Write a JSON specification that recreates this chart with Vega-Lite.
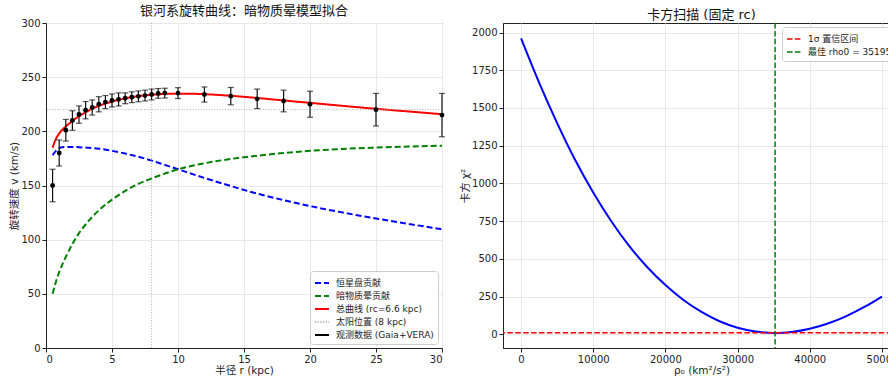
{
  "$schema": "https://vega.github.io/schema/vega-lite/v6.json",
  "background": "white",
  "padding": {"left": 9, "top": 4, "right": 0, "bottom": 0},
  "spacing": 14,
  "config": {
    "font": "DejaVu Sans, Noto Sans CJK SC",
    "view": {"stroke": "#222", "strokeWidth": 1},
    "axis": {"labelFontSize": 10, "titleFontSize": 10.5, "titleFontWeight": "normal", "labelColor": "#222", "titleColor": "#222", "tickColor": "#222", "domainColor": "#222", "gridColor": "#e8e8e8", "tickSize": 4, "labelPadding": 2, "titlePadding": 1},
    "title": {"fontSize": 13, "fontWeight": "normal", "color": "#111", "offset": 0, "dy": 4},
    "legend": {"fillColor": "white", "strokeColor": "#cccccc", "cornerRadius": 3, "padding": 4, "labelFontSize": 9, "labelColor": "#222", "symbolType": "stroke", "symbolSize": 196, "symbolStrokeWidth": 2, "rowPadding": 0, "labelLimit": 300, "labelOffset": 6, "offset": 4}
  },
  "resolve": {"scale": {"color": "independent", "strokeDash": "independent"}, "legend": {"color": "independent", "strokeDash": "independent"}},
  "hconcat": [
    {
      "width": 396,
      "height": 325,
      "title": "银河系旋转曲线：暗物质晕模型拟合",
      "layer": [
        {
          "data": {"values": [
            {"r": 0.5, "v": 178, "series": "恒星盘贡献"},
            {"r": 0.75, "v": 182, "series": "恒星盘贡献"},
            {"r": 1, "v": 184.5, "series": "恒星盘贡献"},
            {"r": 1.5, "v": 185.5, "series": "恒星盘贡献"},
            {"r": 2, "v": 185.5, "series": "恒星盘贡献"},
            {"r": 3, "v": 185, "series": "恒星盘贡献"},
            {"r": 4, "v": 184, "series": "恒星盘贡献"},
            {"r": 5, "v": 182, "series": "恒星盘贡献"},
            {"r": 6, "v": 179.5, "series": "恒星盘贡献"},
            {"r": 7, "v": 176.5, "series": "恒星盘贡献"},
            {"r": 8, "v": 173, "series": "恒星盘贡献"},
            {"r": 9, "v": 169, "series": "恒星盘贡献"},
            {"r": 10, "v": 165, "series": "恒星盘贡献"},
            {"r": 12, "v": 157, "series": "恒星盘贡献"},
            {"r": 14, "v": 149.5, "series": "恒星盘贡献"},
            {"r": 16, "v": 142.5, "series": "恒星盘贡献"},
            {"r": 18, "v": 136.5, "series": "恒星盘贡献"},
            {"r": 20, "v": 131, "series": "恒星盘贡献"},
            {"r": 22.5, "v": 125, "series": "恒星盘贡献"},
            {"r": 25, "v": 119.5, "series": "恒星盘贡献"},
            {"r": 27.5, "v": 114.5, "series": "恒星盘贡献"},
            {"r": 30, "v": 109.5, "series": "恒星盘贡献"},
            {"r": 0.5, "v": 50, "series": "暗物质晕贡献"},
            {"r": 0.75, "v": 61, "series": "暗物质晕贡献"},
            {"r": 1, "v": 70, "series": "暗物质晕贡献"},
            {"r": 1.5, "v": 84, "series": "暗物质晕贡献"},
            {"r": 2, "v": 96, "series": "暗物质晕贡献"},
            {"r": 2.5, "v": 106, "series": "暗物质晕贡献"},
            {"r": 3, "v": 114, "series": "暗物质晕贡献"},
            {"r": 3.5, "v": 121, "series": "暗物质晕贡献"},
            {"r": 4, "v": 127, "series": "暗物质晕贡献"},
            {"r": 5, "v": 137, "series": "暗物质晕贡献"},
            {"r": 6, "v": 145, "series": "暗物质晕贡献"},
            {"r": 7, "v": 151.5, "series": "暗物质晕贡献"},
            {"r": 8, "v": 156.5, "series": "暗物质晕贡献"},
            {"r": 9, "v": 161, "series": "暗物质晕贡献"},
            {"r": 10, "v": 165, "series": "暗物质晕贡献"},
            {"r": 11, "v": 168, "series": "暗物质晕贡献"},
            {"r": 12, "v": 170.5, "series": "暗物质晕贡献"},
            {"r": 14, "v": 174.5, "series": "暗物质晕贡献"},
            {"r": 16, "v": 177.5, "series": "暗物质晕贡献"},
            {"r": 18, "v": 180, "series": "暗物质晕贡献"},
            {"r": 20, "v": 182, "series": "暗物质晕贡献"},
            {"r": 22.5, "v": 183.8, "series": "暗物质晕贡献"},
            {"r": 25, "v": 185, "series": "暗物质晕贡献"},
            {"r": 27.5, "v": 186, "series": "暗物质晕贡献"},
            {"r": 30, "v": 186.7, "series": "暗物质晕贡献"},
            {"r": 0.5, "v": 185, "series": "总曲线 (rc=6.6 kpc)"},
            {"r": 0.75, "v": 193, "series": "总曲线 (rc=6.6 kpc)"},
            {"r": 1, "v": 198, "series": "总曲线 (rc=6.6 kpc)"},
            {"r": 1.5, "v": 204.5, "series": "总曲线 (rc=6.6 kpc)"},
            {"r": 2, "v": 209.5, "series": "总曲线 (rc=6.6 kpc)"},
            {"r": 2.5, "v": 214, "series": "总曲线 (rc=6.6 kpc)"},
            {"r": 3, "v": 217.5, "series": "总曲线 (rc=6.6 kpc)"},
            {"r": 3.5, "v": 221, "series": "总曲线 (rc=6.6 kpc)"},
            {"r": 4, "v": 223.5, "series": "总曲线 (rc=6.6 kpc)"},
            {"r": 5, "v": 227.5, "series": "总曲线 (rc=6.6 kpc)"},
            {"r": 6, "v": 230.5, "series": "总曲线 (rc=6.6 kpc)"},
            {"r": 7, "v": 232.5, "series": "总曲线 (rc=6.6 kpc)"},
            {"r": 8, "v": 233.8, "series": "总曲线 (rc=6.6 kpc)"},
            {"r": 9, "v": 234.5, "series": "总曲线 (rc=6.6 kpc)"},
            {"r": 10, "v": 234.8, "series": "总曲线 (rc=6.6 kpc)"},
            {"r": 11, "v": 234.7, "series": "总曲线 (rc=6.6 kpc)"},
            {"r": 12, "v": 234.3, "series": "总曲线 (rc=6.6 kpc)"},
            {"r": 14, "v": 232.8, "series": "总曲线 (rc=6.6 kpc)"},
            {"r": 16, "v": 230.8, "series": "总曲线 (rc=6.6 kpc)"},
            {"r": 18, "v": 228.5, "series": "总曲线 (rc=6.6 kpc)"},
            {"r": 20, "v": 226.3, "series": "总曲线 (rc=6.6 kpc)"},
            {"r": 22.5, "v": 223.5, "series": "总曲线 (rc=6.6 kpc)"},
            {"r": 25, "v": 220.8, "series": "总曲线 (rc=6.6 kpc)"},
            {"r": 27.5, "v": 218.3, "series": "总曲线 (rc=6.6 kpc)"},
            {"r": 30, "v": 215.8, "series": "总曲线 (rc=6.6 kpc)"}
          ]},
          "mark": {"type": "line", "strokeWidth": 2, "interpolate": "monotone", "clip": true},
          "encoding": {
            "x": {"field": "r", "type": "quantitative", "title": "半径 r (kpc)", "scale": {"domain": [0, 30], "nice": false}, "axis": {"values": [0, 5, 10, 15, 20, 25, 30]}},
            "y": {"field": "v", "type": "quantitative", "title": "旋转速度 v (km/s)", "scale": {"domain": [0, 300], "nice": false}, "axis": {"values": [0, 50, 100, 150, 200, 250, 300]}},
            "color": {"field": "series", "type": "nominal", "title": null,
              "scale": {"domain": ["恒星盘贡献", "暗物质晕贡献", "总曲线 (rc=6.6 kpc)", "太阳位置 (8 kpc)", "观测数据 (Gaia+VERA)"], "range": ["#0000ff", "#008000", "#ff0000", "#aaaaaa", "#000000"]},
              "legend": {"orient": "bottom-right"}},
            "strokeDash": {"field": "series", "type": "nominal", "title": null,
              "scale": {"domain": ["恒星盘贡献", "暗物质晕贡献", "总曲线 (rc=6.6 kpc)", "太阳位置 (8 kpc)", "观测数据 (Gaia+VERA)"], "range": [[6, 3], [6, 3], [1, 0], [1, 1.7], [1, 0]]},
              "legend": {"orient": "bottom-right"}}
          }
        },
        {
          "data": {"values": [{"v": 220}]},
          "mark": {"type": "rule", "color": "#aaaaaa", "strokeDash": [1, 1.7], "strokeWidth": 1},
          "encoding": {"y": {"field": "v", "type": "quantitative", "title": "旋转速度 v (km/s)"}}
        },
        {
          "data": {"values": [{"r": 8, "series": "太阳位置 (8 kpc)"}]},
          "mark": {"type": "rule", "strokeWidth": 1},
          "encoding": {
            "x": {"field": "r", "type": "quantitative", "title": "半径 r (kpc)"},
            "color": {"field": "series", "type": "nominal", "title": null},
            "strokeDash": {"field": "series", "type": "nominal", "title": null}
          }
        },
        {
          "data": {"name": "obs"},
          "mark": {"type": "errorbar", "color": "#111", "thickness": 1.2, "ticks": {"size": 6, "thickness": 1.2}},
          "encoding": {
            "x": {"field": "r", "type": "quantitative", "title": "半径 r (kpc)"},
            "y": {"field": "v", "type": "quantitative", "title": "旋转速度 v (km/s)"},
            "yError": {"field": "err"}
          }
        },
        {
          "data": {"name": "obs"},
          "mark": {"type": "point", "filled": true, "size": 24, "opacity": 1},
          "encoding": {
            "x": {"field": "r", "type": "quantitative", "title": "半径 r (kpc)"},
            "y": {"field": "v", "type": "quantitative", "title": "旋转速度 v (km/s)"},
            "color": {"field": "series", "type": "nominal", "title": null}
          }
        }
      ]
    },
    {
      "width": 397,
      "height": 325,
      "title": "卡方扫描 (固定 rc)",
      "layer": [
        {
          "data": {"values": [
            {"rho": 0, "chi2": 1961},
            {"rho": 2500, "chi2": 1668},
            {"rho": 5000, "chi2": 1400},
            {"rho": 7500, "chi2": 1155},
            {"rho": 10000, "chi2": 940},
            {"rho": 12500, "chi2": 750},
            {"rho": 15000, "chi2": 585},
            {"rho": 17500, "chi2": 445},
            {"rho": 20000, "chi2": 327},
            {"rho": 22500, "chi2": 228},
            {"rho": 25000, "chi2": 149},
            {"rho": 27500, "chi2": 87},
            {"rho": 30000, "chi2": 44},
            {"rho": 32500, "chi2": 19},
            {"rho": 35195, "chi2": 9.6},
            {"rho": 37500, "chi2": 16},
            {"rho": 40000, "chi2": 37},
            {"rho": 42500, "chi2": 72},
            {"rho": 45000, "chi2": 120},
            {"rho": 47500, "chi2": 180},
            {"rho": 50000, "chi2": 251}
          ]},
          "mark": {"type": "line", "color": "#0000ff", "strokeWidth": 2, "interpolate": "monotone"},
          "encoding": {
            "x": {"field": "rho", "type": "quantitative", "title": "ρ₀ (km²/s²)", "scale": {"domain": [-2500, 52500], "nice": false}, "axis": {"values": [0, 10000, 20000, 30000, 40000, 50000], "format": "d"}},
            "y": {"field": "chi2", "type": "quantitative", "title": "卡方 χ²", "scale": {"domain": [-90, 2063], "nice": false}, "axis": {"values": [0, 250, 500, 750, 1000, 1250, 1500, 1750, 2000], "format": "d"}}
          }
        },
        {
          "data": {"values": [{"chi2": 10.6, "item": "1σ 置信区间"}]},
          "mark": {"type": "rule", "strokeWidth": 1.5},
          "encoding": {
            "y": {"field": "chi2", "type": "quantitative", "title": "卡方 χ²"},
            "color": {"field": "item", "type": "nominal", "title": null, "scale": {"domain": ["1σ 置信区间", "最佳 rho0 = 35195"], "range": ["#ff0000", "#008000"]}, "legend": {"orient": "top-right", "symbolStrokeWidth": 1.5}},
            "strokeDash": {"field": "item", "type": "nominal", "title": null, "scale": {"domain": ["1σ 置信区间", "最佳 rho0 = 35195"], "range": [[5.5, 2.4], [5.5, 2.4]]}, "legend": {"orient": "top-right", "symbolStrokeWidth": 1.5}}
          }
        },
        {
          "data": {"values": [{"rho": 35195, "item": "最佳 rho0 = 35195"}]},
          "mark": {"type": "rule", "strokeWidth": 1.5},
          "encoding": {
            "x": {"field": "rho", "type": "quantitative", "title": "ρ₀ (km²/s²)"},
            "color": {"field": "item", "type": "nominal", "title": null},
            "strokeDash": {"field": "item", "type": "nominal", "title": null}
          }
        }
      ]
    }
  ],
  "datasets": {
    "obs": [
      {"r": 0.5, "v": 150, "err": 15, "series": "观测数据 (Gaia+VERA)"},
      {"r": 1.0, "v": 180, "err": 12, "series": "观测数据 (Gaia+VERA)"},
      {"r": 1.5, "v": 201, "err": 10, "series": "观测数据 (Gaia+VERA)"},
      {"r": 2.0, "v": 210, "err": 9, "series": "观测数据 (Gaia+VERA)"},
      {"r": 2.5, "v": 215.5, "err": 8, "series": "观测数据 (Gaia+VERA)"},
      {"r": 3.0, "v": 219.5, "err": 8, "series": "观测数据 (Gaia+VERA)"},
      {"r": 3.5, "v": 222, "err": 7, "series": "观测数据 (Gaia+VERA)"},
      {"r": 4.0, "v": 225, "err": 7, "series": "观测数据 (Gaia+VERA)"},
      {"r": 4.5, "v": 227, "err": 6, "series": "观测数据 (Gaia+VERA)"},
      {"r": 5.0, "v": 228.5, "err": 6, "series": "观测数据 (Gaia+VERA)"},
      {"r": 5.5, "v": 229.5, "err": 6, "series": "观测数据 (Gaia+VERA)"},
      {"r": 6.0, "v": 230.5, "err": 5, "series": "观测数据 (Gaia+VERA)"},
      {"r": 6.5, "v": 231.5, "err": 5, "series": "观测数据 (Gaia+VERA)"},
      {"r": 7.0, "v": 232.3, "err": 5, "series": "观测数据 (Gaia+VERA)"},
      {"r": 7.5, "v": 233, "err": 5, "series": "观测数据 (Gaia+VERA)"},
      {"r": 8.0, "v": 234, "err": 5, "series": "观测数据 (Gaia+VERA)"},
      {"r": 8.5, "v": 235, "err": 4.5, "series": "观测数据 (Gaia+VERA)"},
      {"r": 9.0, "v": 235.3, "err": 4.5, "series": "观测数据 (Gaia+VERA)"},
      {"r": 10, "v": 235.3, "err": 5, "series": "观测数据 (Gaia+VERA)"},
      {"r": 12, "v": 234, "err": 7, "series": "观测数据 (Gaia+VERA)"},
      {"r": 14, "v": 232.5, "err": 8, "series": "观测数据 (Gaia+VERA)"},
      {"r": 16, "v": 230, "err": 9, "series": "观测数据 (Gaia+VERA)"},
      {"r": 18, "v": 228, "err": 10, "series": "观测数据 (Gaia+VERA)"},
      {"r": 20, "v": 225, "err": 12, "series": "观测数据 (Gaia+VERA)"},
      {"r": 25, "v": 220, "err": 15, "series": "观测数据 (Gaia+VERA)"},
      {"r": 30, "v": 215, "err": 20, "series": "观测数据 (Gaia+VERA)"}
    ]
  }
}
